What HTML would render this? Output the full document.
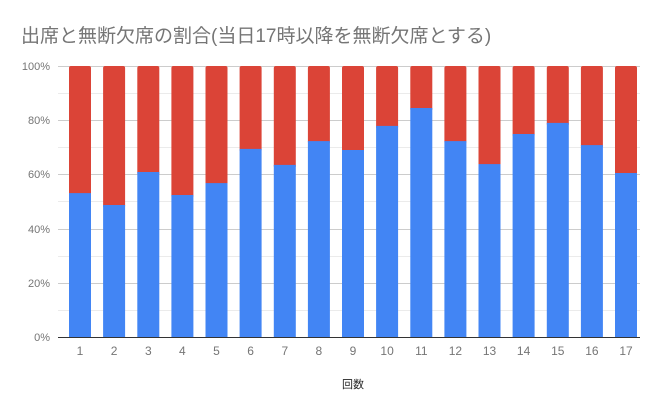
<!DOCTYPE html>
<html><head><meta charset="utf-8"><style>
html,body{margin:0;padding:0;background:#fff;}
svg{display:block;font-family:"Liberation Sans","Noto Sans CJK JP",sans-serif;}
</style></head><body>
<svg width="667" height="412" xmlns="http://www.w3.org/2000/svg">
<rect width="667" height="412" fill="#fff"/>
<text x="21" y="42" font-size="19" fill="#757575">出席と無断欠席の割合(当日17時以降を無断欠席とする)</text>
<g stroke="#ebebeb" stroke-width="1">
<line x1="58" x2="640" y1="93.5" y2="93.5"/><line x1="58" x2="640" y1="147.5" y2="147.5"/>
<line x1="58" x2="640" y1="201.5" y2="201.5"/><line x1="58" x2="640" y1="256.5" y2="256.5"/>
<line x1="58" x2="640" y1="310.5" y2="310.5"/>
</g>
<g stroke="#cccccc" stroke-width="1">
<line x1="58" x2="640" y1="66.5" y2="66.5"/><line x1="58" x2="640" y1="120.5" y2="120.5"/>
<line x1="58" x2="640" y1="174.5" y2="174.5"/><line x1="58" x2="640" y1="229.5" y2="229.5"/>
<line x1="58" x2="640" y1="283.5" y2="283.5"/>
</g>
<g font-size="11" fill="#757575" text-anchor="end">
<text x="50" y="70">100%</text><text x="50" y="124">80%</text><text x="50" y="178">60%</text>
<text x="50" y="233">40%</text><text x="50" y="287">20%</text><text x="50" y="341">0%</text>
</g>
<g fill="#db4437">
<rect x="69" y="66" width="22" height="130" rx="2"/>
<rect x="103.1" y="66" width="22" height="142" rx="2"/>
<rect x="137.3" y="66" width="22" height="109" rx="2"/>
<rect x="171.4" y="66" width="22" height="132" rx="2"/>
<rect x="205.5" y="66" width="22" height="120" rx="2"/>
<rect x="239.6" y="66" width="22" height="86" rx="2"/>
<rect x="273.8" y="66" width="22" height="102" rx="2"/>
<rect x="307.9" y="66" width="22" height="78" rx="2"/>
<rect x="342" y="66" width="22" height="87" rx="2"/>
<rect x="376.1" y="66" width="22" height="63" rx="2"/>
<rect x="410.3" y="66" width="22" height="45" rx="2"/>
<rect x="444.4" y="66" width="22" height="78" rx="2"/>
<rect x="478.5" y="66" width="22" height="101" rx="2"/>
<rect x="512.6" y="66" width="22" height="71" rx="2"/>
<rect x="546.8" y="66" width="22" height="60" rx="2"/>
<rect x="580.9" y="66" width="22" height="82" rx="2"/>
<rect x="615" y="66" width="22" height="110" rx="2"/>
</g>
<g fill="#4285f4">
<rect x="69" y="193.1" width="22" height="143.9"/>
<rect x="103.1" y="205" width="22" height="132"/>
<rect x="137.3" y="172" width="22" height="165"/>
<rect x="171.4" y="195" width="22" height="142"/>
<rect x="205.5" y="183.1" width="22" height="153.9"/>
<rect x="239.6" y="148.9" width="22" height="188.1"/>
<rect x="273.8" y="164.9" width="22" height="172.1"/>
<rect x="307.9" y="141.1" width="22" height="195.9"/>
<rect x="342" y="150" width="22" height="187"/>
<rect x="376.1" y="125.9" width="22" height="211.1"/>
<rect x="410.3" y="108" width="22" height="229"/>
<rect x="444.4" y="141.1" width="22" height="195.9"/>
<rect x="478.5" y="164.1" width="22" height="172.9"/>
<rect x="512.6" y="134" width="22" height="203"/>
<rect x="546.8" y="122.9" width="22" height="214.1"/>
<rect x="580.9" y="145.1" width="22" height="191.9"/>
<rect x="615" y="173" width="22" height="164"/>
</g>
<line x1="58" x2="640" y1="337.5" y2="337.5" stroke="#333" stroke-width="1"/>
<g font-size="12" fill="#757575" text-anchor="middle">
<text x="80" y="355">1</text><text x="114.1" y="355">2</text><text x="148.3" y="355">3</text>
<text x="182.4" y="355">4</text><text x="216.5" y="355">5</text><text x="250.6" y="355">6</text>
<text x="284.8" y="355">7</text><text x="318.9" y="355">8</text><text x="353" y="355">9</text>
<text x="387.1" y="355">10</text><text x="421.3" y="355">11</text><text x="455.4" y="355">12</text>
<text x="489.5" y="355">13</text><text x="523.6" y="355">14</text><text x="557.8" y="355">15</text>
<text x="591.9" y="355">16</text><text x="626" y="355">17</text>
</g>
<text x="353" y="388" font-size="11" fill="#222" text-anchor="middle">回数</text>
</svg>
</body></html>
